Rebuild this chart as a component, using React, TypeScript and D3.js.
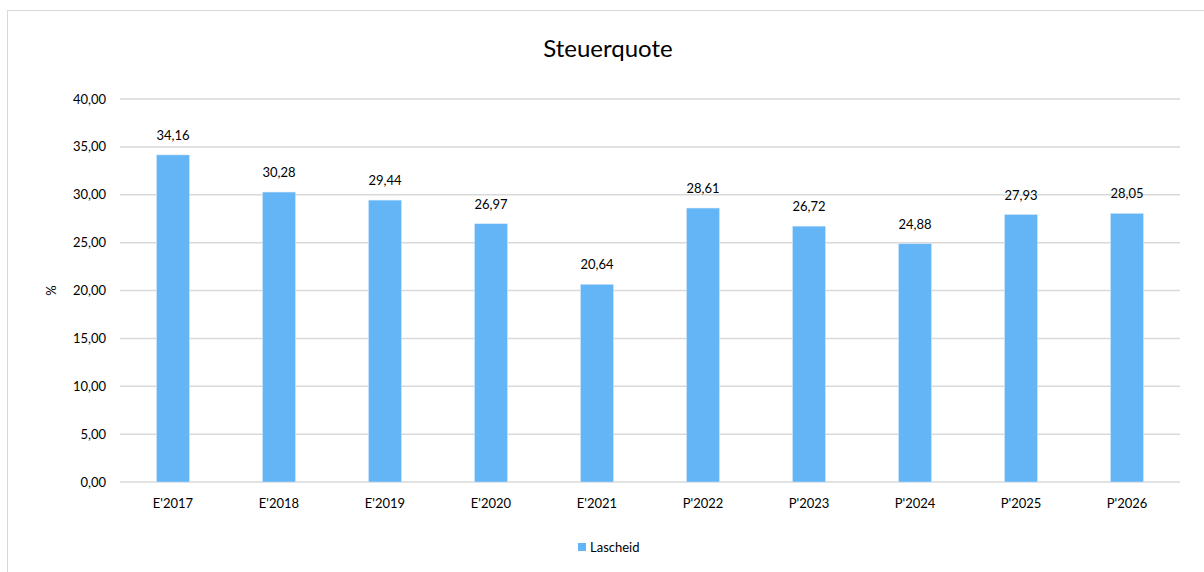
import React from "react";
import * as d3 from "d3";

const categories = ["E'2017", "E'2018", "E'2019", "E'2020", "E'2021", "P'2022", "P'2023", "P'2024", "P'2025", "P'2026"];
const values = [34.16, 30.28, 29.44, 26.97, 20.64, 28.61, 26.72, 24.88, 27.93, 28.05];
const yTicks = [0, 5, 10, 15, 20, 25, 30, 35, 40];
const seriesName = "Lascheid";
const title = "Steuerquote";
const yLabel = "%";

const W = 1204;
const H = 572;
const FONT = "Lato, 'Open Sans', sans-serif";
const BAR = "#64B5F6";

const fmt = (v: number) => v.toFixed(2).replace(".", ",");

export default function App() {
  const x = d3.scaleBand<string>().domain(categories).range([120, 1180]).paddingInner(0.69).paddingOuter(0.345);
  const y = d3.scaleLinear().domain([0, 40]).range([482, 99]);

  return (
    <svg width={W} height={H} style={{ position: "absolute", left: 0, top: 0, background: "#fff" }} fontFamily={FONT}>
      <rect x={7.5} y={10.5} width={1210} height={600} fill="#fff" stroke="#d9d9d9" strokeWidth={1} />
      <text x={608} y={57} textAnchor="middle" fontSize={24} fill="#000">{title}</text>
      {yTicks.map((t) => (
        <g key={t}>
          <line x1={120} x2={1180} y1={y(t)} y2={y(t)} stroke="#d9d9d9" strokeWidth={1.5} />
          <text x={106} y={y(t)} dy="0.35em" textAnchor="end" fontSize={13} fill="#000">{fmt(t)}</text>
        </g>
      ))}
      <text transform={`translate(56,${(y(0) + y(40)) / 2}) rotate(-90)`} textAnchor="middle" fontSize={13} fill="#000">{yLabel}</text>
      {categories.map((c, i) => (
        <g key={c}>
          <rect x={x(c)} y={y(values[i])} width={x.bandwidth()} height={y(0) - y(values[i])} fill={BAR} stroke="#cfe6fb" strokeWidth={0.5} />
          <text x={(x(c) as number) + x.bandwidth() / 2} y={y(values[i]) - 15} textAnchor="middle" fontSize={13} fill="#000">{fmt(values[i])}</text>
          <text x={(x(c) as number) + x.bandwidth() / 2} y={503} dy="0.35em" textAnchor="middle" fontSize={13} fill="#000">{c}</text>
        </g>
      ))}
      <rect x={578} y={543} width={8} height={8} fill={BAR} />
      <text x={590} y={547} dy="0.35em" fontSize={13} fill="#000">{seriesName}</text>
    </svg>
  );
}
